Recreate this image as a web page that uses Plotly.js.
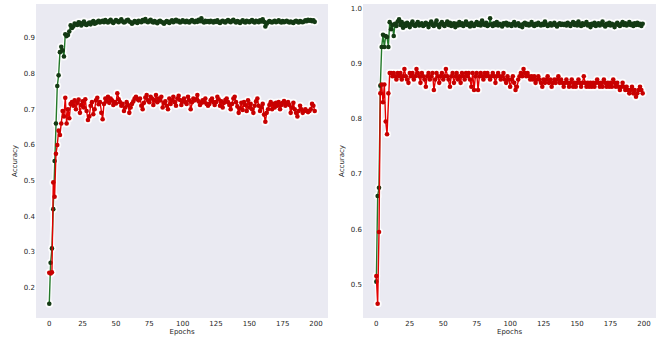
<!DOCTYPE html>
<html>
<head>
<meta charset="utf-8">
<script src="https://cdn.plot.ly/plotly-3.0.1.min.js"></script>
<style>html,body{margin:0;padding:0;background:#fff;}#chart{width:667px;height:340px;}</style>
</head>
<body>
<div id="chart"></div>
<script>
// Left panel: training / validation accuracy per epoch
const trainAccLeft = [
0.155,0.27,0.31,0.42,0.555,0.66,0.765,0.795,0.86,0.875,0.865,0.848,0.91,0.905,0.908,0.918,0.935,0.928,
0.932,0.94,0.938,0.936,0.944,0.942,0.935,0.94,0.946,0.938,0.936,0.94,0.943,0.938,0.944,0.947,0.94,0.942,0.945,0.948,0.943,0.946,
0.948,0.944,0.95,0.946,0.943,0.947,0.951,0.945,0.942,0.946,0.95,0.947,0.944,0.948,0.952,0.946,0.943,0.945,0.949,0.951,
0.946,0.944,0.94,0.943,0.947,0.945,0.942,0.948,0.946,0.944,0.95,0.947,0.953,0.946,0.944,0.948,0.951,0.945,0.943,0.947,
0.944,0.941,0.946,0.948,0.945,0.943,0.94,0.944,0.947,0.945,0.942,0.946,0.949,0.944,0.947,0.951,0.946,0.948,0.943,0.945,
0.949,0.946,0.944,0.948,0.945,0.943,0.947,0.95,0.946,0.944,0.948,0.945,0.951,0.947,0.955,0.946,0.943,0.948,0.945,0.947,
0.944,0.948,0.946,0.943,0.947,0.945,0.949,0.944,0.942,0.946,0.948,0.945,0.943,0.947,0.95,0.946,0.944,0.948,0.951,0.946,
0.943,0.947,0.945,0.942,0.946,0.949,0.945,0.943,0.948,0.946,0.944,0.947,0.95,0.945,0.943,0.948,0.946,0.944,0.949,0.946,
0.952,0.945,0.932,0.94,0.944,0.947,0.945,0.943,0.946,0.948,0.944,0.946,0.949,0.945,0.943,0.947,0.944,0.946,0.948,0.945,
0.943,0.946,0.944,0.942,0.946,0.948,0.945,0.943,0.947,0.945,0.944,0.946,0.949,0.947,0.951,0.948,0.95,0.947,0.949,0.945
];
const valAccLeft = [
0.242,0.24,0.243,0.495,0.455,0.575,0.6,0.64,0.628,0.66,0.695,0.68,0.732,0.66,0.7,0.675,0.715,0.72,
0.71,0.725,0.7,0.718,0.727,0.69,0.712,0.722,0.705,0.728,0.695,0.67,0.68,0.71,0.72,0.686,0.7,0.725,0.732,0.714,0.72,0.69,
0.672,0.715,0.73,0.722,0.735,0.718,0.73,0.725,0.712,0.72,0.716,0.745,0.728,0.72,0.71,0.715,0.695,0.705,0.72,0.712,
0.69,0.705,0.715,0.722,0.73,0.735,0.728,0.725,0.73,0.71,0.7,0.718,0.733,0.74,0.725,0.72,0.735,0.73,0.712,0.725,
0.74,0.72,0.73,0.725,0.735,0.705,0.718,0.722,0.71,0.7,0.73,0.715,0.725,0.735,0.72,0.71,0.73,0.738,0.726,0.712,
0.722,0.73,0.72,0.715,0.735,0.725,0.7,0.72,0.73,0.725,0.728,0.74,0.722,0.712,0.718,0.725,0.72,0.73,0.715,0.71,
0.715,0.725,0.73,0.72,0.712,0.72,0.735,0.728,0.71,0.722,0.705,0.718,0.726,0.73,0.72,0.712,0.7,0.715,0.73,0.735,
0.72,0.708,0.69,0.702,0.718,0.698,0.72,0.712,0.695,0.725,0.705,0.715,0.7,0.69,0.71,0.722,0.73,0.71,0.695,0.705,
0.715,0.685,0.665,0.69,0.7,0.712,0.72,0.7,0.715,0.705,0.718,0.71,0.72,0.7,0.712,0.718,0.723,0.71,0.715,0.72,
0.712,0.69,0.705,0.718,0.7,0.69,0.68,0.695,0.71,0.7,0.69,0.695,0.7,0.695,0.692,0.695,0.7,0.715,0.71,0.695
];
// Right panel
const trainAccRight = [
0.505,0.66,0.675,0.86,0.93,0.952,0.93,0.95,0.948,0.93,0.975,0.962,0.97,0.95,0.972,0.968,0.976,0.98,
0.97,0.975,0.965,0.972,0.968,0.974,0.97,0.966,0.972,0.976,0.97,0.968,0.972,0.975,0.969,0.971,0.973,0.968,0.97,0.974,
0.971,0.966,0.972,0.976,0.97,0.968,0.973,0.978,0.97,0.966,0.972,0.975,0.97,0.968,0.972,0.976,0.97,0.974,0.968,0.97,0.973,0.966,
0.972,0.969,0.975,0.97,0.973,0.968,0.971,0.976,0.97,0.972,0.967,0.974,0.97,0.968,0.972,0.975,0.97,0.973,0.969,0.978,
0.972,0.97,0.974,0.968,0.97,0.982,0.971,0.968,0.973,0.97,0.975,0.969,0.972,0.97,0.967,0.973,0.971,0.974,0.969,0.972,
0.97,0.968,0.972,0.975,0.969,0.971,0.973,0.968,0.97,0.966,0.972,0.974,0.97,0.972,0.969,0.971,0.975,0.97,0.968,0.972,
0.97,0.974,0.971,0.969,0.972,0.97,0.976,0.971,0.968,0.97,0.973,0.969,0.971,0.974,0.97,0.967,0.971,0.973,0.97,0.972,
0.97,0.972,0.969,0.974,0.971,0.968,0.972,0.975,0.97,0.973,0.969,0.976,0.971,0.968,0.973,0.97,0.972,0.975,0.969,0.971,
0.966,0.972,0.97,0.974,0.968,0.971,0.973,0.969,0.972,0.976,0.97,0.967,0.972,0.97,0.974,0.969,0.972,0.97,0.966,0.971,
0.974,0.97,0.968,0.972,0.975,0.97,0.973,0.969,0.971,0.975,0.97,0.972,0.968,0.973,0.97,0.974,0.97,0.972,0.968,0.972
];
const valAccRight = [
0.515,0.465,0.595,0.846,0.862,0.83,0.862,0.795,0.772,0.846,0.883,
0.883,0.877,0.883,0.877,0.871,0.883,0.877,0.883,0.871,0.877,0.89,0.877,0.871,0.865,0.883,0.877,0.883,0.871,0.877,0.89,
0.883,0.877,0.865,0.883,0.877,0.871,0.858,0.877,0.883,0.871,
0.877,0.883,0.852,0.871,0.883,0.877,0.865,0.877,0.883,0.871,0.877,0.89,0.877,0.871,0.858,0.877,0.883,0.865,0.877,0.883,
0.871,0.877,0.865,0.883,0.877,0.871,0.883,0.877,0.883,0.871,0.858,0.883,0.852,0.877,0.883,0.852,0.877,0.883,0.877,0.871,
0.883,0.877,0.883,0.877,0.871,0.877,0.883,0.877,0.865,0.877,0.883,0.877,0.871,0.877,0.883,0.871,0.865,0.877,0.871,0.858,
0.871,0.877,0.865,0.852,0.858,0.871,0.877,0.883,0.877,0.89,0.883,0.877,0.883,0.877,0.871,
0.877,0.871,0.877,0.865,0.871,0.877,0.871,0.865,0.858,0.871,0.865,0.871,0.877,0.865,0.871,0.858,0.865,0.871,0.865,0.871,
0.877,0.865,0.871,0.865,0.858,0.865,0.871,0.865,0.858,0.865,0.871,0.858,0.865,0.858,0.865,0.871,0.865,0.858,0.865,0.877,
0.865,0.858,0.865,0.858,0.865,
0.858,0.865,0.858,0.865,0.871,0.865,0.858,0.865,0.858,0.871,0.865,0.858,0.865,0.858,0.865,0.858,0.871,0.865,0.858,0.865,
0.858,0.852,0.858,0.865,0.858,0.852,0.858,0.852,0.846,0.852,0.858,0.846,0.852,0.84,0.846,0.852,0.858,0.852,0.846
];
const xTicks = [0, 25, 50, 75, 100, 125, 150, 175, 200];
const xTitle = 'Epochs';
const yTitle = 'Accuracy';

const epochs = arr => arr.map((_, i) => i);
const GREEN_LINE = '#23792a', GREEN_MK = '#143a14';
const RED_LINE = '#e30000', RED_MK = '#c80000';
const FONT = 'DejaVu Sans, sans-serif';

function halo(y, xa, ya) {
  return {
    x: epochs(y), y: y, xaxis: xa, yaxis: ya, type: 'scatter', mode: 'lines+markers',
    line: {color: 'rgba(255,255,255,0.85)', width: 4},
    marker: {color: 'rgba(255,255,255,0.85)', size: 8},
    hoverinfo: 'skip'
  };
}
function series(y, line, mk, xa, ya) {
  return {
    x: epochs(y), y: y, xaxis: xa, yaxis: ya, type: 'scatter', mode: 'lines+markers',
    line: {color: line, width: 1.4},
    marker: {color: mk, size: 4.6},
    hoverinfo: 'skip'
  };
}
function padRange(a, b) {
  const all = a.concat(b);
  const lo = Math.min(...all), hi = Math.max(...all), p = (hi - lo) * 0.05;
  return [lo - p, hi + p];
}

const traces = [
  halo(trainAccLeft, 'x', 'y'),
  halo(valAccLeft, 'x', 'y'),
  series(trainAccLeft, GREEN_LINE, GREEN_MK, 'x', 'y'),
  series(valAccLeft, RED_LINE, RED_MK, 'x', 'y'),
  halo(trainAccRight, 'x2', 'y2'),
  halo(valAccRight, 'x2', 'y2'),
  series(trainAccRight, GREEN_LINE, GREEN_MK, 'x2', 'y2'),
  series(valAccRight, RED_LINE, RED_MK, 'x2', 'y2')
];

const tickFont = {family: FONT, size: 7, color: '#262626'};
function xax(domain, anchor) {
  return {domain: domain, anchor: anchor, range: [-9.95, 208.95], tickvals: xTicks,
    showgrid: false, zeroline: false, showline: false, ticks: '', tickfont: tickFont,
    title: {text: xTitle, font: {family: FONT, size: 7, color: '#262626'}, standoff: 1}};
}
function yax(range, anchor) {
  return {domain: [0, 1], anchor: anchor, range: range, dtick: 0.1, tick0: 0, tickformat: '.1f',
    showgrid: false, zeroline: false, showline: false, ticks: '', tickfont: tickFont,
    title: {text: yTitle, font: {family: FONT, size: 7, color: '#262626'}, standoff: 5}};
}

const layout = {
  width: 667, height: 340,
  margin: {l: 0, r: 0, t: 4, b: 22},
  paper_bgcolor: '#ffffff', plot_bgcolor: '#EAEAF2',
  showlegend: false,
  xaxis: xax([36/667, 328/667], 'y'),
  yaxis: yax(padRange(trainAccLeft, valAccLeft), 'x'),
  xaxis2: xax([363/667, 656/667], 'y2'),
  yaxis2: yax(padRange(trainAccRight, valAccRight), 'x2')
};

Plotly.newPlot('chart', traces, layout, {displayModeBar: false, staticPlot: true});
</script>
</body>
</html>
